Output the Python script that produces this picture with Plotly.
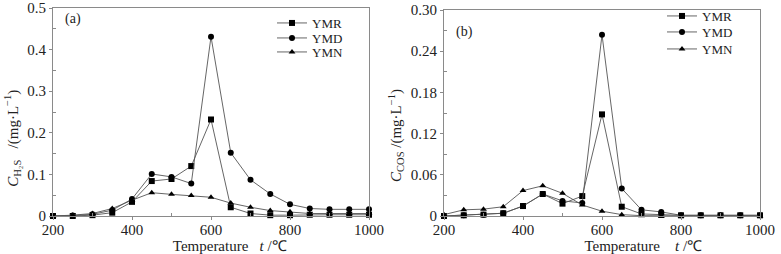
import plotly.graph_objects as go

temps = [200, 250, 300, 350, 400, 450, 500, 550, 600, 650, 700, 750, 800, 850, 900, 950, 1000]

# Panel (a): H2S concentration, mg/L
h2s_ymr = [0.0, 0.0, 0.002, 0.008, 0.034, 0.084, 0.089, 0.120, 0.232, 0.021, 0.006, 0.002, 0.002, 0.003, 0.003, 0.003, 0.003]
h2s_ymd = [0.0, 0.001, 0.004, 0.014, 0.041, 0.101, 0.094, 0.078, 0.431, 0.152, 0.087, 0.053, 0.028, 0.018, 0.016, 0.016, 0.016]
h2s_ymn = [0.0, 0.002, 0.006, 0.018, 0.038, 0.056, 0.052, 0.049, 0.045, 0.031, 0.021, 0.013, 0.010, 0.006, 0.006, 0.006, 0.006]

# Panel (b): COS concentration, mg/L
cos_ymr = [0.0, 0.001, 0.002, 0.004, 0.0145, 0.032, 0.018, 0.029, 0.148, 0.0135, 0.003, 0.0015, 0.001, 0.001, 0.001, 0.001, 0.001]
cos_ymd = [0.0, 0.001, 0.002, 0.004, 0.0145, 0.032, 0.022, 0.019, 0.264, 0.040, 0.009, 0.006, 0.001, 0.001, 0.001, 0.001, 0.001]
cos_ymn = [0.002, 0.009, 0.010, 0.0135, 0.037, 0.044, 0.033, 0.016, 0.007, 0.002, 0.0005, 0.0, 0.0, 0.0, 0.0, 0.0, 0.0]

series_names = ["YMR", "YMD", "YMN"]
symbols = ["square", "circle", "triangle-up"]

x_ticks = [200, 400, 600, 800, 1000]
x_ticklabels = ["200", "400", "600", "800", "1000"]
ya_ticks = [0, 0.1, 0.2, 0.3, 0.4, 0.5]
ya_ticklabels = ["0", "0.1", "0.2", "0.3", "0.4", "0.5"]
yb_ticks = [0, 0.06, 0.12, 0.18, 0.24, 0.30]
yb_ticklabels = ["0", "0.06", "0.12", "0.18", "0.24", "0.30"]

FONT = "Liberation Serif, Times New Roman, serif"
LINE = "#555555"
AX = "#8a8a8a"
TXT = "#222222"

W, H = 781, 254
def fx(px):
    return px / W
def fy(py):
    return 1 - py / H

fig = go.Figure()

legends_a = ["legend", "legend2", "legend3"]
legends_b = ["legend4", "legend5", "legend6"]

for name, sym, ys, lg in zip(series_names, symbols, [h2s_ymr, h2s_ymd, h2s_ymn], legends_a):
    fig.add_trace(go.Scatter(x=temps, y=ys, name=name, mode="lines+markers",
                             line=dict(color=LINE, width=0.9),
                             marker=dict(symbol=sym, size=6, color="black"),
                             xaxis="x", yaxis="y", legend=lg, cliponaxis=False))
for name, sym, ys, lg in zip(series_names, symbols, [cos_ymr, cos_ymd, cos_ymn], legends_b):
    fig.add_trace(go.Scatter(x=temps, y=ys, name=name, mode="lines+markers",
                             line=dict(color=LINE, width=0.9),
                             marker=dict(symbol=sym, size=6, color="black"),
                             xaxis="x2", yaxis="y2", legend=lg, cliponaxis=False))

NB = "&nbsp;"
common_x = dict(range=[200, 1000], tickvals=x_ticks, ticktext=x_ticklabels, automargin=False,
                showline=True, linecolor=AX, linewidth=1, mirror=True,
                ticks="outside", ticklen=3, tickcolor=AX, showgrid=False, zeroline=False,
                ticklabelstandoff=-3,
                minor=dict(tickvals=[300, 500, 700, 900], ticks="inside", ticklen=3, tickcolor=AX),
                tickfont=dict(family=FONT, size=15, color=TXT))
common_y = dict(showline=True, linecolor=AX, linewidth=1, mirror=True, automargin=False,
                ticks="outside", ticklen=3, tickcolor=AX, showgrid=False, zeroline=False,
                tickfont=dict(family=FONT, size=15, color=TXT))

title_font = dict(family=FONT, size=15, color=TXT)

def leg(xp, yp):
    return dict(x=fx(xp), y=fy(yp), xanchor="left", yanchor="middle",
                bgcolor="rgba(0,0,0,0)", font=dict(family=FONT, size=13, color=TXT),
                itemwidth=30, tracegroupgap=0)

fig.update_layout(
    width=W, height=H,
    margin=dict(l=0, r=0, t=0, b=0, autoexpand=False),
    paper_bgcolor="white", plot_bgcolor="white",
    showlegend=True,
    xaxis=dict(domain=[fx(53), fx(369)], anchor="y",
               title=dict(text=NB * 10 + "Temperature" + NB * 3 + "<i>t</i> /℃", font=title_font, standoff=0),
               **common_x),
    yaxis=dict(domain=[fy(216), fy(8)], anchor="x", range=[0, 0.5],
               tickvals=ya_ticks, ticktext=ya_ticklabels,
               minor=dict(tickvals=[0.05, 0.15, 0.25, 0.35, 0.45], ticks="inside", ticklen=3, tickcolor=AX),
               title=dict(text="<i>C</i><sub>H₂S</sub>" + NB * 3 + "/(mg·L<sup>−1</sup>)" + NB * 14, font=title_font, standoff=5),
               **common_y),
    xaxis2=dict(domain=[fx(444), fx(760)], anchor="y2",
                title=dict(text=NB * 22 + "Temperature" + NB * 4 + "<i>t</i> /℃", font=title_font, standoff=0),
                **common_x),
    yaxis2=dict(domain=[fy(216), fy(10)], anchor="x2", range=[0, 0.30],
                tickvals=yb_ticks, ticktext=yb_ticklabels,
                minor=dict(tickvals=[0.03, 0.09, 0.15, 0.21, 0.27], ticks="inside", ticklen=3, tickcolor=AX),
                title=dict(text="<i>C</i><sub>COS</sub> /(mg·L<sup>−1</sup>)" + NB * 12, font=title_font, standoff=5),
                **common_y),
    legend=leg(272, 23),
    legend2=leg(272, 38),
    legend3=leg(272, 52),
    legend4=leg(662, 16),
    legend5=leg(662, 32),
    legend6=leg(662, 49),
    annotations=[
        dict(text="(a)", x=fx(63), y=fy(19), xref="paper", yref="paper", xanchor="left", yanchor="middle",
             showarrow=False, font=dict(family=FONT, size=14, color=TXT)),
        dict(text="(b)", x=fx(454), y=fy(32), xref="paper", yref="paper", xanchor="left", yanchor="middle",
             showarrow=False, font=dict(family=FONT, size=14, color=TXT)),
    ],
)

fig.write_html("out.html", config={"displayModeBar": False},
               post_script="document.body.style.margin='0';")
